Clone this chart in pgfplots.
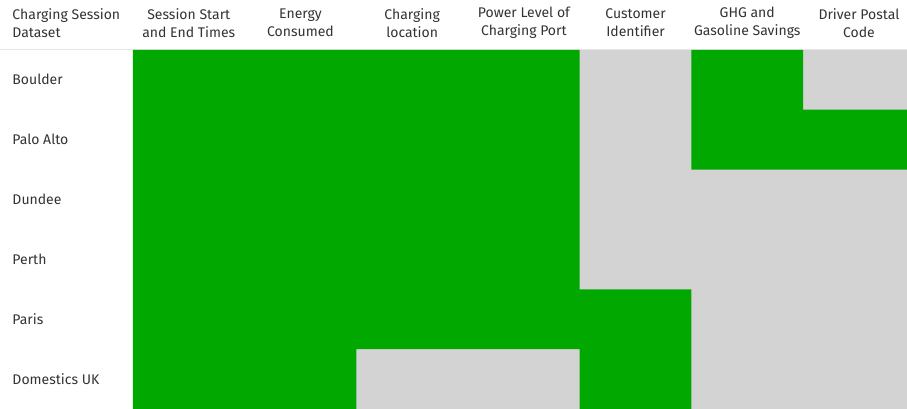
\documentclass[border=0pt]{standalone}
\usepackage{fontspec}
\setmainfont{Fira Sans}
\usepackage{pgfplots}
\pgfplotsset{compat=1.18}
\definecolor{cgreen}{RGB}{0,168,0}
\definecolor{cgrey}{RGB}{211,211,211}
\definecolor{ctext}{RGB}{51,51,51}
\tikzset{lab/.style={font=\fontsize{14}{18}\selectfont, text=ctext, inner sep=0pt}}
\begin{document}
\begin{tikzpicture}
\begin{axis}[
  width=907pt, height=409pt, scale only axis,
  xmin=-0.69, xmax=7.43, ymin=-0.3333, ymax=6.5,
  y dir=reverse, hide axis, clip=false,
]
\draw[black!10, line width=1pt] (axis cs:-0.69,0.49) -- (axis cs:7.43,0.49);
% grid area (not available = grey)
\addplot[fill=cgrey, draw=none] coordinates {(0.5,0.5) (7.43,0.5) (7.43,6.5) (0.5,6.5)} -- cycle;
% available fields (green)
\addplot[fill=cgreen, draw=none] coordinates {
(0.5,0.5) (4.5,0.5) (4.5,4.5) (5.5,4.5) (5.5,6.5) (4.5,6.5) (4.5,5.5) (2.5,5.5) (2.5,6.5) (0.5,6.5)} -- cycle;
\addplot[fill=cgreen, draw=none] coordinates {
(5.5,0.5) (6.5,0.5) (6.5,1.5) (7.43,1.5) (7.43,2.5) (5.5,2.5)} -- cycle;
\node[lab, anchor=west, align=left] at (axis cs:-0.58,0.05) {Charging Session\\Dataset};
\node[lab, align=center] at (axis cs:1,0.05) {Session Start\\and End Times};
\node[lab, align=center] at (axis cs:2,0.05) {Energy\\Consumed};
\node[lab, align=center] at (axis cs:3,0.05) {Charging\\location};
\node[lab, align=center] at (axis cs:4,0.05) {Power Level of\\Charging Port};
\node[lab, align=center] at (axis cs:5,0.05) {Customer\\Identifier};
\node[lab, align=center] at (axis cs:6,0.05) {GHG and\\Gasoline Savings};
\node[lab, align=center] at (axis cs:7,0.05) {Driver Postal\\Code};
\node[lab, anchor=west] at (axis cs:-0.58,1) {Boulder};
\node[lab, anchor=west] at (axis cs:-0.58,2) {Palo Alto};
\node[lab, anchor=west] at (axis cs:-0.58,3) {Dundee};
\node[lab, anchor=west] at (axis cs:-0.58,4) {Perth};
\node[lab, anchor=west] at (axis cs:-0.58,5) {Paris};
\node[lab, anchor=west] at (axis cs:-0.58,6) {Domestics UK};
\end{axis}
\pgfresetboundingbox
\path (current axis.south west) rectangle (current axis.north east);
\end{tikzpicture}
\end{document}
